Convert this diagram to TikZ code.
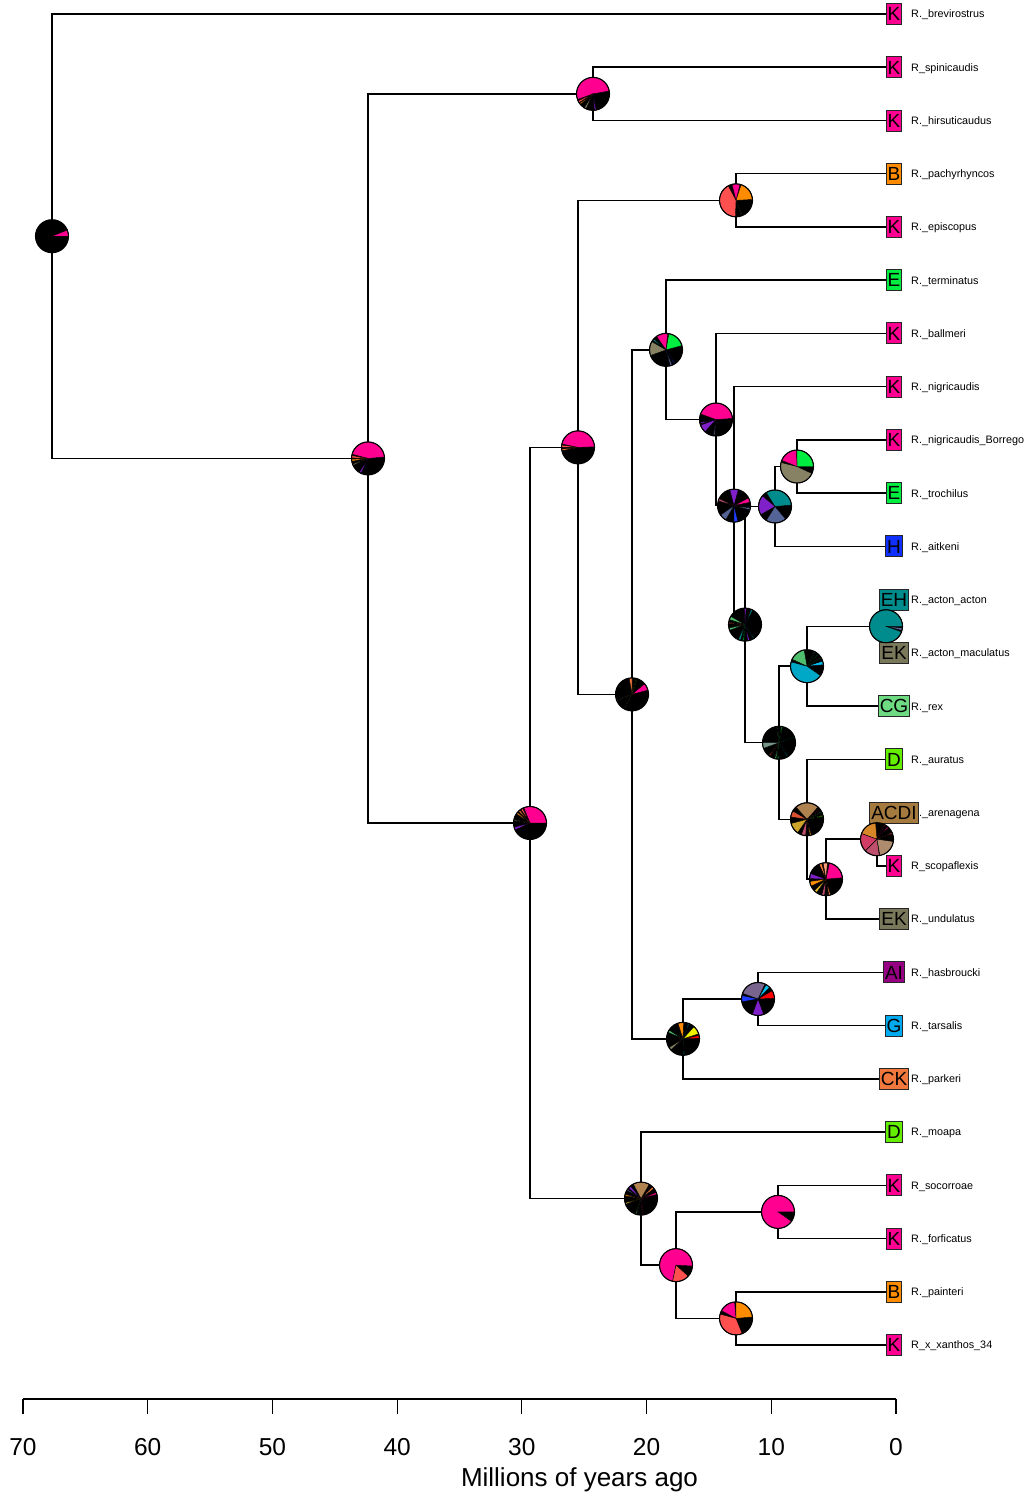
\documentclass[tikz,border=0pt]{standalone}
\usepackage{fontspec}
\setmainfont{Liberation Sans}
\usetikzlibrary{backgrounds}
\definecolor{cK}{RGB}{255,0,144}
\definecolor{cB}{RGB}{255,140,0}
\definecolor{cE}{RGB}{0,238,64}
\definecolor{cH}{RGB}{16,48,255}
\definecolor{cEH}{RGB}{0,140,140}
\definecolor{cEK}{RGB}{122,120,90}
\definecolor{cCG}{RGB}{110,218,130}
\definecolor{cD}{RGB}{100,238,0}
\definecolor{cACDI}{RGB}{165,122,62}
\definecolor{cAI}{RGB}{150,0,130}
\definecolor{cG}{RGB}{0,170,238}
\definecolor{cCK}{RGB}{240,120,60}
\definecolor{zSalmon}{RGB}{255,80,80}
\definecolor{zPurple}{RGB}{128,32,200}
\definecolor{zSlate}{RGB}{85,100,150}
\definecolor{zOlive}{RGB}{135,130,100}
\definecolor{zCyan}{RGB}{0,168,200}
\definecolor{zMedGreen}{RGB}{80,188,110}
\definecolor{zSky}{RGB}{0,190,240}
\definecolor{zGrayPurple}{RGB}{120,100,140}
\definecolor{zBlue}{RGB}{30,60,255}
\definecolor{zBrown}{RGB}{175,130,80}
\definecolor{zRedOrange}{RGB}{220,80,50}
\definecolor{zMustard}{RGB}{205,165,45}
\definecolor{zOchre}{RGB}{215,135,40}
\definecolor{zRoseRed}{RGB}{210,60,100}
\definecolor{zMauve}{RGB}{190,80,110}
\definecolor{zTan}{RGB}{175,140,110}
\definecolor{zGrayTeal}{RGB}{120,150,135}
\definecolor{zPeach}{RGB}{250,160,120}
\definecolor{zYellow}{RGB}{240,240,0}
\definecolor{zRed}{RGB}{255,0,0}
\definecolor{zYellowish}{RGB}{230,190,40}
\newcommand{\pierad}{16.5pt}
\newcommand{\mypie}[3]{%
  \node[pienode] (#1) at (#2) {};
  \foreach \sa/\ea/\col in {#3}{%
    \filldraw[fill=\col,draw=black,line width=0.4pt] (#1.center) -- ++(\sa:\pierad) arc[start angle=\sa,end angle=\ea,radius=\pierad] -- cycle;}
  \draw[line width=1.1pt] (#1.center) circle[radius=\pierad];}
\begin{document}
\begin{tikzpicture}[x=1pt,y=-1pt,
  edge/.style={line width=1.5pt,draw=black},
  pienode/.style={circle,fill=black,inner sep=0pt,minimum size=33pt},
  tipbox/.style={draw=black!85,line width=0.9pt,inner xsep=1.5pt,inner ysep=3.7pt,text height=13.6pt,text depth=0pt,font=\fontsize{19}{19}\selectfont},
  tiplab/.style={anchor=west,inner sep=0pt,text height=7.8pt,text depth=0pt,font=\fontsize{10.8}{12}\selectfont},
  axlab/.style={inner sep=0pt,text height=17.5pt,text depth=0pt,font=\fontsize{24.5}{26}\selectfont},
  ttl/.style={inner sep=0pt,text height=18.6pt,text depth=0pt,font=\fontsize{26}{28}\selectfont}]
\useasboundingbox (0,0) rectangle (1029,1495);
% tips: labels then boxes
\foreach \i/\st/\col/\lab in {
 0/K/cK/R.\_brevirostrus, 1/K/cK/R\_spinicaudis, 2/K/cK/R.\_hirsuticaudus,
 3/B/cB/R.\_pachyrhyncos, 4/K/cK/R.\_episcopus, 5/E/cE/R.\_terminatus,
 6/K/cK/R.\_ballmeri, 7/K/cK/R.\_nigricaudis, 8/K/cK/R.\_nigricaudis\_Borrego,
 9/E/cE/R.\_trochilus, 10/H/cH/R.\_aitkeni, 11/EH/cEH/R.\_acton\_acton,
 12/EK/cEK/R.\_acton\_maculatus, 13/CG/cCG/R.\_rex, 14/D/cD/R.\_auratus,
 15/ACDI/cACDI/R.\_arenagena, 16/K/cK/R\_scopaflexis, 17/EK/cEK/R.\_undulatus,
 18/AI/cAI/R.\_hasbroucki, 19/G/cG/R.\_tarsalis, 20/CK/cCK/R.\_parkeri,
 21/D/cD/R.\_moapa, 22/K/cK/R\_socorroae, 23/K/cK/R.\_forficatus,
 24/B/cB/R.\_painteri, 25/K/cK/R\_x\_xanthos\_34}{
  \node[tiplab] (l\i) at (911,{14+53.24*\i}) {\lab};
  \node[tipbox,fill=\col] (t\i) at (894,{14+53.24*\i}) {\st};
}
% internal node positions
\coordinate (nRoot) at (52,236.21);
\coordinate (nA) at (368,458.42);
\coordinate (nB) at (593,93.86);
\coordinate (nC) at (530,822.98);
\coordinate (nD) at (578,447.36);
\coordinate (nF) at (736,200.34);
\coordinate (nG) at (632,694.37);
\coordinate (nH) at (666,349.87);
\coordinate (nJ) at (716,419.54);
\coordinate (nK) at (734,505.64);
\coordinate (nL) at (745,624.60);
\coordinate (nM) at (775,506.47);
\coordinate (nO) at (797,466.54);
\coordinate (nN) at (779,742.73);
\coordinate (nP) at (807,666.19);
\coordinate (nR) at (886,626.26);
\coordinate (nQ) at (807,819.26);
\coordinate (nS) at (826,879.15);
\coordinate (nT) at (877,839.22);
\coordinate (nI) at (683,1038.87);
\coordinate (nU) at (758,998.94);
\coordinate (nE) at (641,1198.59);
\coordinate (nV) at (676,1265.14);
\coordinate (nW) at (778,1211.90);
\coordinate (nX) at (736,1318.38);
% pies
\mypie{pRoot}{nRoot}{0/22/cK}
\mypie{pA}{nA}{5/165/cK,170/178/zSalmon,183/190/cB,200/205/zOlive,238/245/zPurple}
\mypie{pB}{nB}{10/200/cK,205/212/zSalmon,215/220/cB,238/245/zOlive,275/281/zPurple}
\mypie{pC}{nC}{0/112/cK,117/124/zSalmon,128/134/cCK,140/146/cB,168/172/zOlive,195/205/zPurple}
\mypie{pD}{nD}{2/168/cK,172/180/zSalmon,186/192/cCK}
\mypie{pF}{nF}{3/72/cB,76/104/cK,118/268/zSalmon,290/293/zTan}
\mypie{pG}{nG}{15/40/cK,72/75/cD,90/100/cCK,200/203/zOlive,240/243/zOlive}
\mypie{pH}{nH}{15/80/cE,84/125/cK,138/144/cEH,150/200/zOlive,285/292/zSlate,300/304/zBlue}
\mypie{pJ}{nJ}{4/160/cK,190/195/zPurple,200/228/zPurple,260/265/zSlate}
\mypie{pK}{nK}{12/28/cK,75/105/zPurple,155/163/zMauve,215/240/zSlate,270/284/zBlue,345/352/zSlate}
\mypie{pM}{nM}{5/122/cEH,140/210/zPurple,238/310/zSlate}
\mypie{pO}{nO}{0/90/cE,92/158/cK,166/335/zOlive}
\mypie{pL}{nL}{62/68/cEH,86/92/zPurple,150/162/zMedGreen,172/176/zSalmon,192/200/zMedGreen,246/254/cEH,262/266/cE,280/286/zPurple,300/304/cEH}
\mypie{pP}{nP}{5/18/zSky,30/33/zMedGreen,45/48/cE,60/63/zMedGreen,100/155/zMedGreen,165/325/zCyan}
\mypie{pR}{nR}{0/340/cEH,345/354/zSlate}
\mypie{pN}{nN}{20/23/cEH,78/82/cE,95/98/zMedGreen,180/200/zGrayTeal,232/236/zSalmon,255/260/zMedGreen,265/268/cE,300/304/cEH}
\mypie{pQ}{nQ}{10/14/cD,25/28/cE,35/38/cK,48/132/zBrown,150/172/zRedOrange,195/235/zMustard,250/265/zMauve,280/285/cB}
\mypie{pT}{nT}{20/24/zSalmon,45/50/cK,60/63/cK,95/160/zOchre,160/225/zRoseRed,225/278/zMauve,280/352/zTan}
\mypie{pS}{nS}{5/78/cK,85/100/zPeach,105/115/cCK,160/178/zPurple,188/205/cB,225/235/zYellowish,255/265/zMauve,280/286/cCK}
\mypie{pI}{nI}{2/12/zRed,18/48/zYellow,68/72/cEH,88/108/cB,148/156/zMedGreen,212/222/zOlive,272/275/cEH}
\mypie{pU}{nU}{2/30/zRed,45/60/zSky,65/160/zGrayPurple,168/190/zBlue,250/290/zPurple}
\mypie{pE}{nE}{15/22/cK,38/46/cCK,60/118/zBrown,130/140/zPurple,145/150/zSlate,165/170/cB,195/200/zYellowish,250/254/zMedGreen,275/278/cK}
\mypie{pV}{nV}{-3/258/cK,258/318/zSalmon}
\mypie{pW}{nW}{0/325/cK}
\mypie{pX}{nX}{5/90/cB,95/152/cK,165/292/zSalmon}
% axis
\coordinate (ax0) at (23,1399);
\coordinate (ax1) at (896,1399);
\draw[line width=1.2pt] (ax0) -- (ax1);
\foreach \t in {0,10,...,70}{
  \draw[line width=1.2pt] ({896-12.4714*\t},1399) -- ({896-12.4714*\t},1414);
  \node[axlab] (ax\t) at ({896-12.4714*\t},1447) {\t};
}
\node[ttl] (title) at (579.5,1477) {Millions of years ago};
% tree edges
\begin{scope}[on background layer]
\draw[edge] (nRoot) |- (t0.west);
\draw[edge] (nRoot) |- (nA);
\draw[edge] (nA) |- (nB);
\draw[edge] (nA) |- (nC);
\draw[edge] (nB) |- (t1.west);
\draw[edge] (nB) |- (t2.west);
\draw[edge] (nC) |- (nD);
\draw[edge] (nC) |- (nE);
\draw[edge] (nD) |- (nF);
\draw[edge] (nD) |- (nG);
\draw[edge] (nF) |- (t3.west);
\draw[edge] (nF) |- (t4.west);
\draw[edge] (nG) |- (nH);
\draw[edge] (nG) |- (nI);
\draw[edge] (nH) |- (t5.west);
\draw[edge] (nH) |- (nJ);
\draw[edge] (nJ) |- (t6.west);
\draw[edge] (nJ) |- (nK);
\draw[edge] (nK) |- (t7.west);
\draw[edge] (nK) |- (nL);
\draw[edge] (nL) |- (nM);
\draw[edge] (nL) |- (nN);
\draw[edge] (nM) |- (nO);
\draw[edge] (nM) |- (t10.west);
\draw[edge] (nO) |- (t8.west);
\draw[edge] (nO) |- (t9.west);
\draw[edge] (nN) |- (nP);
\draw[edge] (nN) |- (nQ);
\draw[edge] (nP) |- (nR);
\draw[edge] (nP) |- (t13.west);
\draw[edge] (nR) |- (t11.west);
\draw[edge] (nR) |- (t12.west);
\draw[edge] (nQ) |- (t14.west);
\draw[edge] (nQ) |- (nS);
\draw[edge] (nS) |- (nT);
\draw[edge] (nS) |- (t17.west);
\draw[edge] (nT) |- (t15.west);
\draw[edge] (nT) |- (t16.west);
\draw[edge] (nI) |- (nU);
\draw[edge] (nI) |- (t20.west);
\draw[edge] (nU) |- (t18.west);
\draw[edge] (nU) |- (t19.west);
\draw[edge] (nE) |- (t21.west);
\draw[edge] (nE) |- (nV);
\draw[edge] (nV) |- (nW);
\draw[edge] (nV) |- (nX);
\draw[edge] (nW) |- (t22.west);
\draw[edge] (nW) |- (t23.west);
\draw[edge] (nX) |- (t24.west);
\draw[edge] (nX) |- (t25.west);
\end{scope}
\end{tikzpicture}
\end{document}
